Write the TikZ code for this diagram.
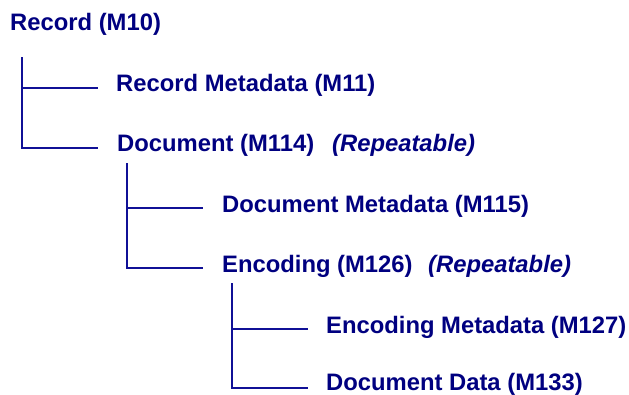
\documentclass[tikz,border=0pt]{standalone}
\usepackage{fontspec}
\setmainfont{Liberation Sans}
\definecolor{navy}{RGB}{0,0,128}
\definecolor{treeblue}{RGB}{16,16,150}
\begin{document}
\begin{tikzpicture}[x=1pt,y=-1pt,
  lbl/.style={anchor=base west, inner sep=0pt, text=navy, font=\fontsize{23.8}{28}\selectfont\bfseries},
  rep/.style={lbl, font=\fontsize{23.8}{28}\selectfont\bfseries\itshape},
  tree/.style={draw=treeblue, line width=1.5pt}]
\useasboundingbox (0,0) rectangle (629,394);
% labels
\node[lbl] (rec) at (10,30.5) {Record (M10)};
\node[lbl] (rmeta) at (116,91) {Record Metadata (M11)};
\node[lbl] (doc) at (117,151) {Document (M114)};
\node[rep] (docrep) at (332,151) {(Repeatable)};
\node[lbl] (dmeta) at (222,212) {Document Metadata (M115)};
\node[lbl] (enc) at (222,272) {Encoding (M126)};
\node[rep] (encrep) at (428,272) {(Repeatable)};
\node[lbl] (emeta) at (326,333) {Encoding Metadata (M127)};
\node[lbl] (ddata) at (326,390) {Document Data (M133)};
% tree connectors
\coordinate (t1) at (22,57);
\coordinate (t2) at (127,163);
\coordinate (t3) at (232,283);
\draw[tree] (t1) |- ([shift={(-18,-3)}]rmeta.base west);
\draw[tree] (t1) |- ([shift={(-19,-3)}]doc.base west);
\draw[tree] (t2) |- ([shift={(-19,-4)}]dmeta.base west);
\draw[tree] (t2) |- ([shift={(-19,-4)}]enc.base west);
\draw[tree] (t3) |- ([shift={(-18,-4)}]emeta.base west);
\draw[tree] (t3) |- ([shift={(-18,-2)}]ddata.base west);
\end{tikzpicture}
\end{document}
